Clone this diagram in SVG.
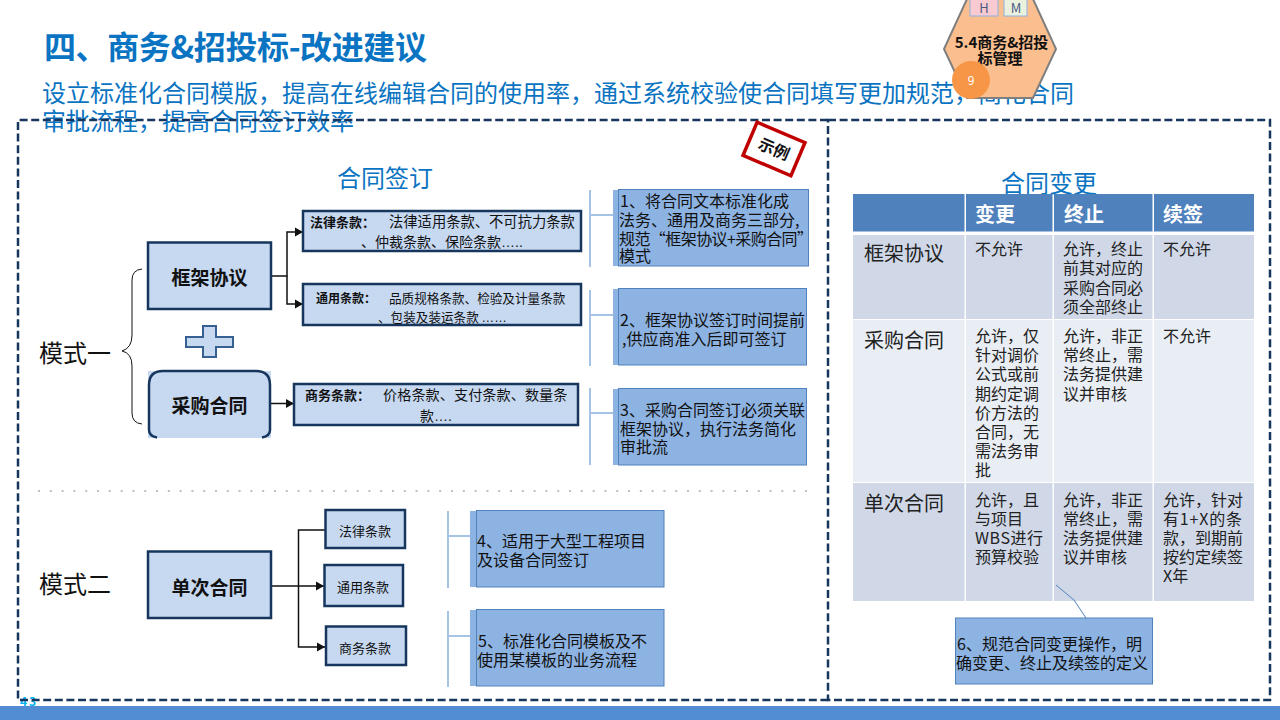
<svg xmlns="http://www.w3.org/2000/svg" width="1280" height="720" viewBox="0 0 1280 720">
<style>
text{font-family:"Noto Sans CJK SC","Noto Sans",sans-serif;fill:#111}
.blue{fill:#0A74C2}
.box{fill:#C6D9F1;stroke:#17365D;stroke-width:2.5}
.call{fill:#8DB3E2;stroke:#4F81BD;stroke-width:1}
.band{fill:#8DB3E2}
.lead{fill:none;stroke:#A6C3E6;stroke-width:2}
.con{fill:none;stroke:#111;stroke-width:1.5}
.frame{fill:none;stroke:#17365D;stroke-width:2.5;stroke-dasharray:8 3.6}
.n{font-size:19px;font-weight:700;text-anchor:middle}
.c{font-size:16px}
.t{font-size:16px;fill:#222}
.r{font-size:20px;fill:#222}
.h{font-size:20px;font-weight:700;fill:#fff}
.e{font-family:"Liberation Sans",sans-serif}
</style>
<defs>
<marker id="arr" markerUnits="userSpaceOnUse" markerWidth="9" markerHeight="10" refX="8" refY="5" orient="auto"><path d="M0 0.5L8 5L0 9.5Z" fill="#111"/></marker>
</defs>
<rect id="bottom-bar" x="0" y="706" width="1280" height="14" fill="#528CD3"/>
<text id="page-number" x="20" y="706" font-size="12" font-weight="700" letter-spacing="2" style="fill:#00B0F0">43</text>
<text id="title" x="44" y="59" font-size="32" font-weight="700" class="blue" textLength="383">四、商务&amp;招投标-改进建议</text>
<g id="subtitle" font-size="24">
<text class="blue" x="42" y="102">设立标准化合同模版，提高在线编辑合同的使用率，通过系统校验使合同填写更加规范，简化合同</text>
<text class="blue" x="42" y="130">审批流程，提高合同签订效率</text>
</g>
<text id="heading-sign" class="blue" x="337" y="187" font-size="24">合同签订</text>
<text id="heading-change" class="blue" x="1001" y="192" font-size="24">合同变更</text>
<g id="frames">
<path class="frame" d="M828 120H18V700H828"/>
<rect class="frame" x="828" y="120" width="442" height="580"/>
</g>
<g id="hexagon-node">
<path d="M967 -1L1033 -1L1056 49L1033 98L967 98L944 49Z" fill="#FBBF8F" stroke="#7F7F7F" stroke-width="2"/>
<rect x="970" y="-2" width="28" height="18" fill="#F9CBD0" stroke="#8DB3E2" stroke-width="1"/>
<text x="984" y="13" font-size="13" text-anchor="middle" style="fill:#4A5A85">H</text>
<rect x="1004" y="-2" width="23" height="18" fill="#EAF1DD" stroke="#8DB3E2" stroke-width="1"/>
<text x="1016" y="13" font-size="13" text-anchor="middle" style="fill:#4A5A85">M</text>
<text x="1001.500" y="48" font-size="15" font-weight="700" text-anchor="middle">5.4商务&amp;招投</text>
<text x="1000" y="64" font-size="15" font-weight="700" text-anchor="middle">标管理</text>
<circle cx="971" cy="80" r="19" fill="#F79646"/>
<text x="971" y="85" font-size="12" text-anchor="middle" style="fill:#fff">9</text>
</g>
<g id="stamp" transform="rotate(23 774 149)">
<rect x="748" y="131" width="52" height="36" fill="#fff" stroke="#C00000" stroke-width="3.500"/>
<text x="774" y="155" font-size="16" font-weight="700" text-anchor="middle">示例</text>
</g>
<g id="connectors">
<path class="con" d="M271 276H287V232H303" marker-end="url(#arr)"/>
<path class="con" d="M287 276V304H303" marker-end="url(#arr)"/>
<path class="con" d="M271 403.500H294" marker-end="url(#arr)"/>
<path class="con" d="M271 586H324" marker-end="url(#arr)"/>
<path class="con" d="M325 530H298.500V647H325" marker-end="url(#arr)"/>
<path class="lead" d="M590 190V267M590 215H613"/>
<path class="lead" d="M590 290V366M590 315H613"/>
<path class="lead" d="M590 388V465M590 413H613"/>
<path class="lead" d="M448 511V588M448 536H470"/>
<path class="lead" d="M448 611V687M448 636H470"/>
<path d="M142 269Q132 270 132 280V335Q132 348 122 351Q132 353 132 366V413Q132 423 142 424" fill="none" stroke="#111" stroke-width="1"/>
</g>
<text id="mode-1" x="39" y="362" font-size="24">模式一</text>
<text id="mode-2" x="39" y="593" font-size="24">模式二</text>
<path id="plus" d="M203 326H216V337H233V347H216V357H203V347H186V337H203Z" fill="#C6D9F1" stroke="#376092" stroke-width="2"/>
<line id="divider" x1="38" y1="491" x2="812" y2="491" stroke="#BFBFBF" stroke-width="2" stroke-dasharray="2 9.800"/>
<g id="node-framework">
<rect class="box" x="148" y="242.500" width="123" height="66.500"/>
<text class="n" x="209.500" y="285">框架协议</text>
</g>
<g id="node-purchase">
<rect x="148" y="371" width="123" height="67" fill="#C6D9F1"/>
<path d="M149 430V385Q149 371 163 371H256Q270 371 270 385V430Q270 436 262 437.500M149 430Q149 436 157 437.500" fill="#C6D9F1" stroke="#17365D" stroke-width="2.500"/>
<text class="n" x="209.500" y="413">采购合同</text>
</g>
<g id="node-single">
<rect class="box" x="148" y="551.500" width="123" height="66.500"/>
<text class="n" x="209.500" y="595">单次合同</text>
</g>
<g id="node-law">
<rect class="box" x="303" y="211" width="278" height="40"/>
<text x="310" y="227" font-size="13" font-weight="700">法律条款：</text>
<text x="389" y="227" font-size="14.300">法律适用条款、不可抗力条款</text>
<text x="361" y="247" font-size="14">、仲裁条款、保险条款<tspan class="e">…..</tspan></text>
</g>
<g id="node-general">
<rect class="box" x="303" y="284" width="278" height="41"/>
<text x="316" y="303" font-size="12" font-weight="700">通用条款：</text>
<text x="389" y="303" font-size="12.600">品质规格条款、检验及计量条款</text>
<text x="378" y="322" font-size="12.600">、包装及装运条款 <tspan class="e">……</tspan></text>
</g>
<g id="node-commerce">
<rect class="box" x="294" y="384" width="284" height="41"/>
<text x="305" y="400" font-size="13" font-weight="700">商务条款：</text>
<text x="383" y="400" font-size="14.200">价格条款、支付条款、数量条</text>
<text x="420" y="421" font-size="14">款<tspan class="e">….</tspan></text>
</g>
<g id="node-law-2">
<rect class="box" x="325.500" y="510" width="79.500" height="38"/>
<text x="365" y="536" font-size="13" text-anchor="middle">法律条款</text>
</g>
<g id="node-general-2">
<rect class="box" x="324.500" y="565" width="78.500" height="41"/>
<text x="363" y="592" font-size="13" text-anchor="middle">通用条款</text>
</g>
<g id="node-commerce-2">
<rect class="box" x="326" y="626.500" width="80" height="38.500"/>
<text x="365" y="653" font-size="13" text-anchor="middle">商务条款</text>
</g>
<g id="note-1">
<rect class="band" x="613" y="190" width="6" height="76"/>
<rect class="call" x="618.500" y="189.500" width="190" height="76.500"/>
<text class="c" x="620" y="207">1、将合同文本标准化成</text>
<text class="c" x="619" y="226">法务、通用及商务三部分,</text>
<text class="c" x="619" y="245" textLength="194">规范“框架协议+采购合同”</text>
<text class="c" x="619" y="262">模式</text>
</g>
<g id="note-2">
<rect class="band" x="613" y="289" width="6" height="76"/>
<rect class="call" x="618.500" y="288.500" width="188" height="76.500"/>
<text class="c" x="620" y="326">2、框架协议签订时间提前</text>
<text class="c" x="622" y="345">,供应商准入后即可签订</text>
</g>
<g id="note-3">
<rect class="band" x="613" y="389" width="6" height="76"/>
<rect class="call" x="618.500" y="388.500" width="188" height="76.500"/>
<text class="c" x="620" y="416">3、采购合同签订必须关联</text>
<text class="c" x="620" y="435">框架协议，执行法务简化</text>
<text class="c" x="620" y="453">审批流</text>
</g>
<g id="note-4">
<rect class="band" x="470" y="511" width="6" height="76"/>
<rect class="call" x="476.500" y="510.500" width="187.500" height="76.500"/>
<text class="c" x="477" y="547">4、适用于大型工程项目</text>
<text class="c" x="477" y="566">及设备合同签订</text>
</g>
<g id="note-5">
<rect class="band" x="470" y="610" width="6" height="76"/>
<rect class="call" x="476.500" y="609.500" width="187.500" height="76.500"/>
<text class="c" x="478" y="647">5、标准化合同模板及不</text>
<text class="c" x="477" y="666">使用某模板的业务流程</text>
</g>
<g id="table">
<rect x="853" y="194" width="111.500" height="37.500" fill="#4F81BD"/>
<rect x="966" y="194" width="86.500" height="37.500" fill="#4F81BD"/>
<rect x="1054" y="194" width="98.500" height="37.500" fill="#4F81BD"/>
<rect x="1154" y="194" width="100" height="37.500" fill="#4F81BD"/>
<text class="h" x="975" y="222">变更</text>
<text class="h" x="1064" y="222">终止</text>
<text class="h" x="1163" y="222">续签</text>
<rect x="853" y="235" width="111.500" height="84" fill="#D0D8E8"/>
<rect x="966" y="235" width="86.500" height="84" fill="#D0D8E8"/>
<rect x="1054" y="235" width="98.500" height="84" fill="#D0D8E8"/>
<rect x="1154" y="235" width="100" height="84" fill="#D0D8E8"/>
<rect x="853" y="320" width="111.500" height="162" fill="#E9EDF4"/>
<rect x="966" y="320" width="86.500" height="162" fill="#E9EDF4"/>
<rect x="1054" y="320" width="98.500" height="162" fill="#E9EDF4"/>
<rect x="1154" y="320" width="100" height="162" fill="#E9EDF4"/>
<rect x="853" y="483" width="111.500" height="118" fill="#D0D8E8"/>
<rect x="966" y="483" width="86.500" height="118" fill="#D0D8E8"/>
<rect x="1054" y="483" width="98.500" height="118" fill="#D0D8E8"/>
<rect x="1154" y="483" width="100" height="118" fill="#D0D8E8"/>
<text class="r" x="864" y="261">框架协议</text>
<text class="r" x="864" y="348">采购合同</text>
<text class="r" x="864" y="511">单次合同</text>
<text class="t" x="975" y="255">不允许</text>
<text class="t" x="1063" y="255">允许，终止</text>
<text class="t" x="1063" y="274">前其对应的</text>
<text class="t" x="1063" y="294">采购合同必</text>
<text class="t" x="1063" y="313">须全部终止</text>
<text class="t" x="1163" y="255">不允许</text>
<text class="t" x="975" y="342">允许，仅</text>
<text class="t" x="975" y="361">针对调价</text>
<text class="t" x="975" y="380">公式或前</text>
<text class="t" x="975" y="400">期约定调</text>
<text class="t" x="975" y="419">价方法的</text>
<text class="t" x="975" y="438">合同，无</text>
<text class="t" x="975" y="457">需法务审</text>
<text class="t" x="975" y="476">批</text>
<text class="t" x="1063" y="342">允许，非正</text>
<text class="t" x="1063" y="361">常终止，需</text>
<text class="t" x="1063" y="380">法务提供建</text>
<text class="t" x="1063" y="400">议并审核</text>
<text class="t" x="1163" y="342">不允许</text>
<text class="t" x="975" y="506">允许，且</text>
<text class="t" x="975" y="525">与项目</text>
<text class="t" x="975" y="544" textLength="68">WBS进行</text>
<text class="t" x="975" y="563">预算校验</text>
<text class="t" x="1063" y="506">允许，非正</text>
<text class="t" x="1063" y="525">常终止，需</text>
<text class="t" x="1063" y="544">法务提供建</text>
<text class="t" x="1063" y="563">议并审核</text>
<text class="t" x="1163" y="506">允许，针对</text>
<text class="t" x="1163" y="525" textLength="79">有1+X的条</text>
<text class="t" x="1163" y="544">款，到期前</text>
<text class="t" x="1163" y="563">按约定续签</text>
<text class="t" x="1163" y="582">X年</text>
</g>
<path id="note-6-leader" d="M1056 585L1074 600L1086 618" fill="none" stroke="#4F81BD" stroke-width="1"/>
<g id="note-6">
<rect class="call" x="955.500" y="618" width="197" height="66"/>
<text class="c" x="957" y="650">6、规范合同变更操作，明</text>
<text class="c" x="956" y="669">确变更、终止及续签的定义</text>
</g>
</svg>
